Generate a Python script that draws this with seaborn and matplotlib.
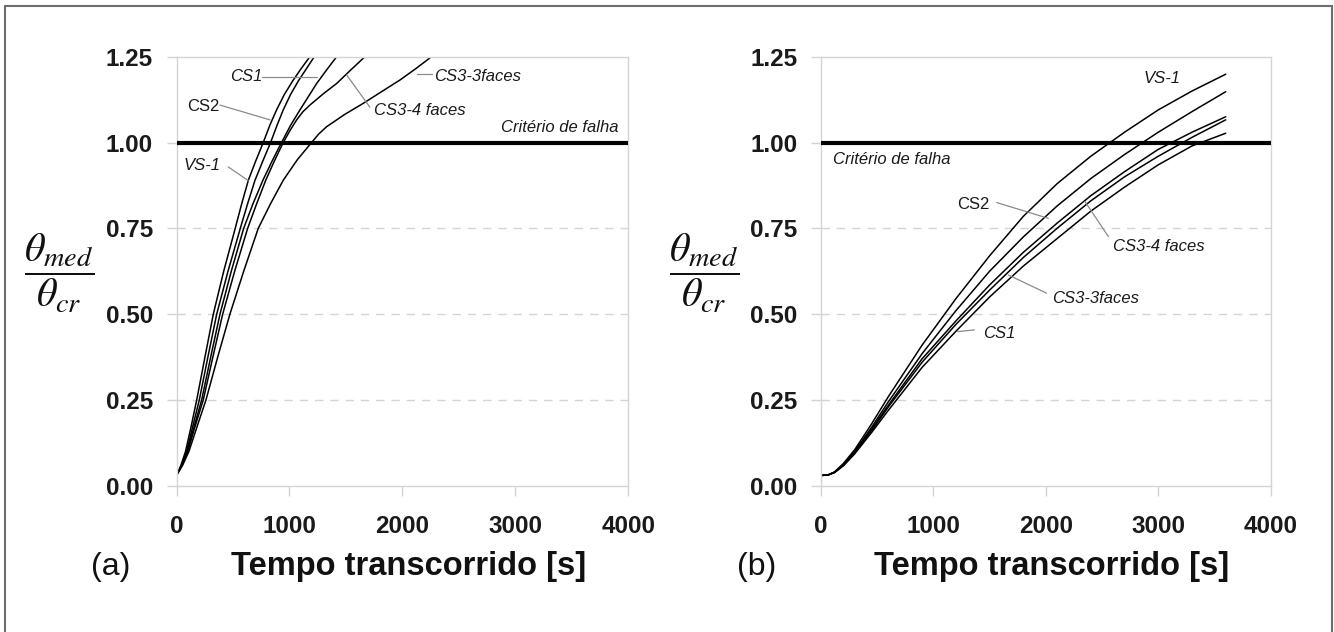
import matplotlib
matplotlib.use("Agg")
import matplotlib.pyplot as plt
import seaborn as sns
from matplotlib.lines import Line2D

# ---------------- data: panel (a) ----------------
a_vs1_t = [0, 40, 80, 128, 179, 252, 326, 418, 520, 576, 636, 700, 768, 826, 886, 955, 1030, 1103, 1181]
a_vs1_v = [0.03, 0.06, 0.10, 0.17, 0.25, 0.375, 0.50, 0.625, 0.75, 0.82, 0.89, 0.945, 1.00, 1.05, 1.095, 1.14, 1.18, 1.215, 1.25]
a_cs2_t = [0, 45, 90, 142, 202, 278, 356, 456, 565, 628, 695, 763, 833, 890, 945, 1010, 1080, 1150, 1220]
a_cs2_v = [0.03, 0.06, 0.10, 0.17, 0.25, 0.375, 0.50, 0.625, 0.75, 0.82, 0.89, 0.945, 1.00, 1.05, 1.095, 1.14, 1.18, 1.215, 1.25]
a_cs1_t = [0, 48, 95, 154, 223, 303, 385, 485, 595, 675, 765, 845, 930, 1010, 1093, 1170, 1241, 1330, 1418]
a_cs1_v = [0.03, 0.06, 0.10, 0.17, 0.25, 0.375, 0.50, 0.625, 0.75, 0.82, 0.89, 0.945, 1.00, 1.05, 1.095, 1.135, 1.172, 1.212, 1.25]
a_cs34_t = [0, 50, 100, 162, 237, 322, 409, 515, 630, 708, 790, 865, 945, 1005, 1064, 1120, 1181, 1300, 1418, 1545, 1668]
a_cs34_v = [0.03, 0.06, 0.10, 0.17, 0.25, 0.375, 0.50, 0.625, 0.75, 0.82, 0.89, 0.945, 1.00, 1.035, 1.066, 1.09, 1.109, 1.142, 1.172, 1.212, 1.25]
a_cs33_t = [0, 55, 110, 180, 261, 365, 473, 595, 724, 830, 945, 1070, 1196, 1260, 1329, 1490, 1653, 1815, 1978, 2118, 2258]
a_cs33_v = [0.03, 0.06, 0.10, 0.17, 0.25, 0.375, 0.50, 0.625, 0.75, 0.82, 0.89, 0.95, 1.00, 1.025, 1.046, 1.082, 1.114, 1.148, 1.182, 1.215, 1.25]

# ---------------- data: panel (b) ----------------
b_t = [0, 60, 120, 200, 300, 450, 600, 900, 1200, 1500, 1800, 2100, 2400, 2700, 3000, 3300, 3600]
b_vs1_v = [0.03, 0.031, 0.040, 0.065, 0.105, 0.18, 0.26, 0.41, 0.545, 0.67, 0.785, 0.88, 0.96, 1.03, 1.095, 1.15, 1.199]
b_cs2_v = [0.03, 0.031, 0.039, 0.062, 0.100, 0.17, 0.245, 0.385, 0.51, 0.625, 0.725, 0.815, 0.895, 0.965, 1.03, 1.09, 1.148]
b_cs34_v = [0.03, 0.031, 0.039, 0.060, 0.097, 0.165, 0.235, 0.37, 0.48, 0.585, 0.68, 0.765, 0.845, 0.915, 0.98, 1.03, 1.075]
b_cs33_v = [0.03, 0.031, 0.039, 0.060, 0.096, 0.16, 0.23, 0.36, 0.47, 0.57, 0.665, 0.75, 0.83, 0.90, 0.96, 1.015, 1.066]
b_cs1_v = [0.03, 0.031, 0.038, 0.058, 0.093, 0.155, 0.22, 0.345, 0.45, 0.55, 0.64, 0.72, 0.80, 0.87, 0.935, 0.99, 1.027]
b_wall_t = [0, 0]
b_wall_v = [0.03, 1.25]

criterion = 1.0
x_ticks = [0, 1000, 2000, 3000, 4000]
y_ticks = [0.00, 0.25, 0.50, 0.75, 1.00, 1.25]
x_label = "Tempo transcorrido [s]"
y_label = r"$\dfrac{\theta_{med}}{\theta_{cr}}$"
crit_label = "Critério de falha"

sns.set_theme(style="white")
plt.rcParams["font.family"] = ["Liberation Sans", "DejaVu Sans"]
plt.rcParams["mathtext.fontset"] = "stix"

W, H = 1334, 632
fig = plt.figure(figsize=(W / 100, H / 100), dpi=100)
fig.patch.set_facecolor("white")

def fx(px):
    return px / W

def fy(py):
    return 1 - py / H

axa = fig.add_axes([fx(176.5), fy(485.7), fx(628.3 - 176.5), (485.7 - 56.7) / H])
axb = fig.add_axes([fx(821), fy(485.7), fx(1270.7 - 821), (485.7 - 56.7) / H])

grid_c = "#d4d4d4"
for ax in (axa, axb):
    ax.set_xlim(0, 4000)
    ax.set_ylim(0, 1.25)
    ax.set_xticks(x_ticks)
    ax.set_yticks(y_ticks)
    ax.set_xticklabels([str(v) for v in x_ticks], fontweight="bold")
    ax.set_yticklabels([f"{v:.2f}" for v in y_ticks], fontweight="bold")
    ax.tick_params(axis="both", labelsize=17.5, color=grid_c, labelcolor="#1a1a1a",
                   direction="out", length=7, width=1)
    ax.tick_params(axis="y", pad=10, left=True)
    ax.tick_params(axis="x", pad=14, bottom=True)
    for s in ax.spines.values():
        s.set_color(grid_c)
        s.set_linewidth(1.0)
    for yv in [0.25, 0.5, 0.75]:
        ax.axhline(yv, color=grid_c, lw=1.0, ls=(0, (6, 5)), zorder=0)
    ax.axhline(criterion, color="black", lw=3.0, zorder=3)
    ax.set_xlabel("")
    ax.set_ylabel("")

lw = 1.1
for t, v in [(a_vs1_t, a_vs1_v), (a_cs2_t, a_cs2_v), (a_cs1_t, a_cs1_v),
             (a_cs34_t, a_cs34_v), (a_cs33_t, a_cs33_v)]:
    sns.lineplot(x=t, y=v, ax=axa, color="black", lw=lw, estimator=None, sort=False)

for v in [b_vs1_v, b_cs2_v, b_cs34_v, b_cs33_v, b_cs1_v]:
    sns.lineplot(x=b_t, y=v, ax=axb, color="black", lw=lw, estimator=None, sort=False)
sns.lineplot(x=b_wall_t, y=b_wall_v, ax=axb, color="black", lw=1.4, estimator=None, sort=False)

lead_c = "#8a8a8a"
fs = 12

def label(ax, text, xy_text, ha="left", italic=True, leader=None):
    ax.text(xy_text[0], xy_text[1], text, ha=ha, va="center", fontsize=fs,
            style="italic" if italic else "normal", color="#1a1a1a", zorder=5)
    if leader is not None:
        (x0, y0), (x1, y1) = leader
        ax.plot([x0, x1], [y0, y1], color=lead_c, lw=0.9, zorder=4)

# panel (a) annotations
label(axa, "CS1", (621, 1.192), ha="center", leader=((754, 1.192), (1241, 1.192)))
label(axa, "CS2", (237, 1.106), ha="center", italic=False, leader=((385, 1.109), (827, 1.066)))
label(axa, "CS3-3faces", (2280, 1.192), leader=((2125, 1.20), (2258, 1.20)))
label(axa, "CS3-4 faces", (1748, 1.093), leader=((1712, 1.103), (1506, 1.197)))
label(axa, "VS-1", (223, 0.932), ha="center", leader=((458, 0.929), (635, 0.889)))
label(axa, crit_label, (3910, 1.045), ha="right")

# panel (b) annotations
label(axb, "VS-1", (3030, 1.187), ha="center")
label(axb, crit_label, (110, 0.951))
label(axb, "CS2", (1355, 0.818), ha="center", italic=False, leader=((1563, 0.825), (2022, 0.779)))
label(axb, "CS3-4 faces", (2600, 0.696), leader=((2556, 0.726), (2348, 0.828)))
label(axb, "CS3-3faces", (2052, 0.546), leader=((2006, 0.561), (1666, 0.614)))
label(axb, "CS1", (1438, 0.444), leader=((1364, 0.454), (1216, 0.449)))

# axis labels, panel tags
for cx in (409, 1052):
    fig.text(fx(cx), fy(567), x_label, ha="center", va="center", fontsize=23.5,
             fontweight="bold", color="#111111")
for cx in (59, 704):
    fig.text(fx(cx), fy(273), y_label, ha="center", va="center", fontsize=29, color="#111111")
fig.text(fx(111), fy(567), "(a)", ha="center", va="center", fontsize=23, color="#111111")
fig.text(fx(757), fy(567), "(b)", ha="center", va="center", fontsize=23, color="#111111")

# outer frame
fig.add_artist(Line2D([fx(5), fx(5)], [0, fy(6)], transform=fig.transFigure, color="#6e6e6e", lw=1.5))
fig.add_artist(Line2D([fx(5), fx(1331.5)], [fy(6), fy(6)], transform=fig.transFigure, color="#6e6e6e", lw=1.5))
fig.add_artist(Line2D([fx(1331.5), fx(1331.5)], [0, fy(6)], transform=fig.transFigure, color="#6e6e6e", lw=1.5))

fig.savefig("out.png", dpi=100)
